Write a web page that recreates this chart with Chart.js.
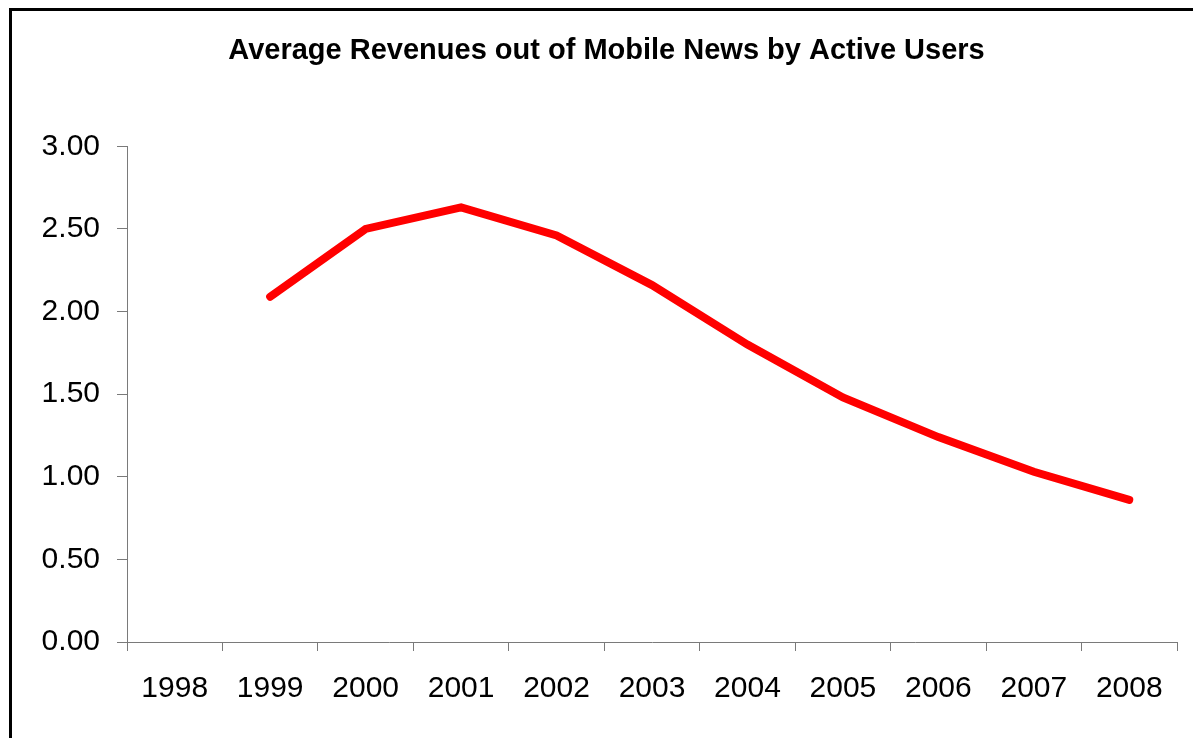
<!DOCTYPE html>
<html>
<head>
<meta charset="utf-8">
<title>Average Revenues out of Mobile News by Active Users</title>
<script src="https://cdn.jsdelivr.net/npm/chart.js@4/dist/chart.umd.min.js"></script>
<style>
  html, body { margin: 0; padding: 0; background: #fff; overflow: hidden; }
  #wrap { position: relative; width: 1193px; height: 738px; overflow: hidden; }
  #frame {
    position: absolute; left: 9px; top: 8px;
    width: 2000px; height: 2000px;
    border: 3px solid #000; box-sizing: border-box;
  }
  canvas { position: absolute; left: 0; top: 0; }
</style>
</head>
<body>
<div id="wrap">
  <div id="frame"></div>
  <canvas id="chart" width="1193" height="738"></canvas>
</div>
<script>
// Years on the category axis
const years = ['1998', '1999', '2000', '2001', '2002', '2003', '2004', '2005', '2006', '2007', '2008'];
// Average revenue per active user (no figure for 1998)
const avgRevenue = [null, 2.09, 2.50, 2.63, 2.46, 2.16, 1.80, 1.48, 1.24, 1.03, 0.86];
// Value axis ticks
const yTicks = [0, 0.5, 1, 1.5, 2, 2.5, 3];

const chartTitle = 'Average Revenues out of Mobile News by Active Users';
const axisGray = '#7a7a7a';
const fontFamily = '"Liberation Sans", Arial, Helvetica, sans-serif';

new Chart(document.getElementById('chart'), {
  type: 'line',
  data: {
    labels: years,
    datasets: [{
      label: 'Average revenue',
      data: avgRevenue,
      borderColor: '#ff0000',
      backgroundColor: '#ff0000',
      borderWidth: 8,
      borderCapStyle: 'round',
      borderJoinStyle: 'miter',
      pointRadius: 0,
      pointHoverRadius: 0,
      tension: 0,
      spanGaps: false
    }]
  },
  options: {
    responsive: false,
    animation: false,
    events: [],
    layout: { padding: { left: 36, right: 16, top: 0, bottom: 0 } },
    plugins: {
      legend: { display: false },
      tooltip: { enabled: false },
      title: {
        display: true,
        text: chartTitle,
        color: '#000',
        font: { family: fontFamily, size: 29, weight: 'bold', lineHeight: 1.2 },
        padding: { top: 34, bottom: 77.5 }
      }
    },
    scales: {
      x: {
        type: 'category',
        offset: true,
        grid: {
          display: true,
          offset: true,
          drawOnChartArea: false,
          drawTicks: true,
          tickLength: 9,
          tickWidth: 1,
          color: axisGray
        },
        border: { display: true, color: axisGray, width: 1 },
        ticks: {
          color: '#000',
          font: { family: fontFamily, size: 30 },
          padding: 20,
          maxRotation: 0,
          autoSkip: false
        },
        afterFit(scale) { scale.height = 96; }
      },
      y: {
        min: 0,
        max: 3,
        afterBuildTicks(scale) {
          scale.ticks = yTicks.map(v => ({ value: v }));
        },
        grid: {
          display: true,
          drawOnChartArea: false,
          drawTicks: true,
          tickLength: 10,
          tickWidth: 1,
          color: axisGray
        },
        border: { display: true, color: axisGray, width: 1 },
        ticks: {
          color: '#000',
          font: { family: fontFamily, size: 30 },
          padding: 17,
          callback: v => Number(v).toFixed(2)
        },
        afterFit(scale) { scale.width = 91; }
      }
    }
  }
});
</script>
</body>
</html>
